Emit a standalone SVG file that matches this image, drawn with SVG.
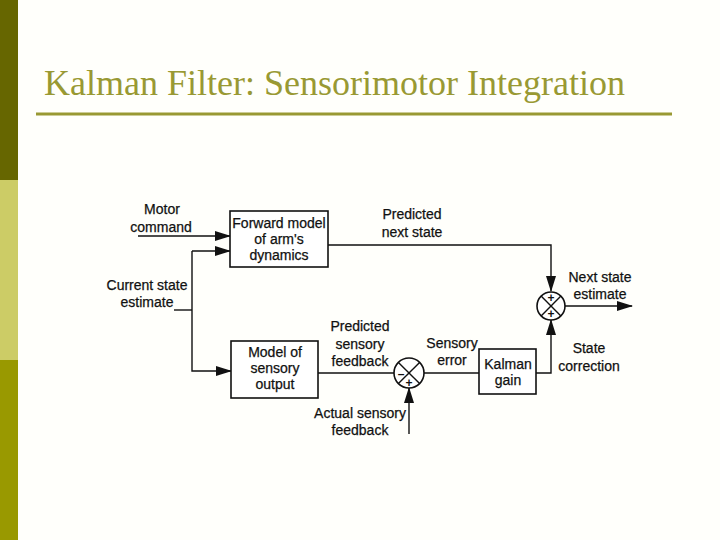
<svg xmlns="http://www.w3.org/2000/svg" width="720" height="540" viewBox="0 0 720 540">
<style>
.lbl{font-family:"Liberation Sans",Arial,sans-serif;font-size:14px;fill:#111;text-anchor:middle;stroke:#111;stroke-width:0.25}
.box{fill:#fff;stroke:#111;stroke-width:1.6}
.ln{fill:none;stroke:#111;stroke-width:1.4}
.sign{font-family:"Liberation Sans",sans-serif;font-size:12px;font-weight:bold;fill:#111;text-anchor:middle}
</style>
<defs>
<marker id="arr" markerUnits="userSpaceOnUse" markerWidth="16" markerHeight="10" refX="15" refY="5" orient="auto">
<path d="M0,0 L16,5 L0,10 Z" fill="#111"/>
</marker>
</defs>
<rect x="0" y="0" width="720" height="540" fill="#FFFFFB"/>
<rect x="0" y="0" width="18" height="180" fill="#666600"/>
<rect x="0" y="180" width="18" height="180" fill="#CCCC66"/>
<rect x="0" y="360" width="18" height="180" fill="#999900"/>
<text x="44" y="95" font-family="'Liberation Serif','Times New Roman',serif" font-size="36" fill="#999933">Kalman Filter: Sensorimotor Integration</text>
<rect x="36" y="112.5" width="636" height="3" fill="#999933"/>

<g id="connectors">
<line class="ln" x1="138" y1="236" x2="230" y2="236" marker-end="url(#arr)"/>
<polyline class="ln" points="174,310 192,310"/>
<polyline class="ln" points="192,251 192,371 231,371" marker-end="url(#arr)"/>
<line class="ln" x1="192" y1="251" x2="230" y2="251" marker-end="url(#arr)"/>
<polyline class="ln" points="328,245 551,245 551,291" marker-end="url(#arr)"/>
<line class="ln" x1="565" y1="306" x2="632" y2="306" marker-end="url(#arr)"/>
<line class="ln" x1="318" y1="373" x2="394" y2="373"/>
<line class="ln" x1="409" y1="434" x2="409" y2="388" marker-end="url(#arr)"/>
<line class="ln" x1="424" y1="373" x2="479" y2="373"/>
<polyline class="ln" points="536,373 551,373 551,320" marker-end="url(#arr)"/>
</g>

<g id="forward-model">
<rect class="box" x="230" y="211" width="98" height="56"/>
<text class="lbl" x="279" y="228">Forward model</text>
<text class="lbl" x="279" y="244">of arm's</text>
<text class="lbl" x="279" y="260">dynamics</text>
</g>
<g id="sensory-model">
<rect class="box" x="231" y="341" width="87" height="57"/>
<text class="lbl" x="275" y="357">Model of</text>
<text class="lbl" x="275" y="373">sensory</text>
<text class="lbl" x="275" y="389">output</text>
</g>
<g id="kalman-gain">
<rect class="box" x="479" y="349" width="57" height="45"/>
<text class="lbl" x="508" y="369">Kalman</text>
<text class="lbl" x="508" y="385">gain</text>
</g>
<g id="comparator">
<circle class="box" cx="409" cy="373" r="15"/>
<line class="ln" x1="398.4" y1="362.4" x2="419.6" y2="383.6"/>
<line class="ln" x1="419.6" y1="362.4" x2="398.4" y2="383.6"/>
<text class="sign" x="401" y="378">–</text>
<text class="sign" x="409" y="387">+</text>
</g>
<g id="sum">
<circle class="box" cx="551" cy="306" r="14"/>
<line class="ln" x1="541.1" y1="296.1" x2="560.9" y2="315.9"/>
<line class="ln" x1="560.9" y1="296.1" x2="541.1" y2="315.9"/>
<text class="sign" x="551" y="302">+</text>
<text class="sign" x="551" y="318">+</text>
</g>

<g id="labels">
<text class="lbl" x="162" y="214">Motor</text>
<text class="lbl" x="161" y="232">command</text>
<text class="lbl" x="147" y="290">Current state</text>
<text class="lbl" x="147" y="307">estimate</text>
<text class="lbl" x="412" y="219">Predicted</text>
<text class="lbl" x="412" y="237">next state</text>
<text class="lbl" x="600" y="282">Next state</text>
<text class="lbl" x="600" y="299">estimate</text>
<text class="lbl" x="360" y="331">Predicted</text>
<text class="lbl" x="360" y="349">sensory</text>
<text class="lbl" x="360" y="366">feedback</text>
<text class="lbl" x="452" y="348">Sensory</text>
<text class="lbl" x="452" y="365">error</text>
<text class="lbl" x="589" y="353">State</text>
<text class="lbl" x="589" y="371">correction</text>
<text class="lbl" x="360" y="418">Actual sensory</text>
<text class="lbl" x="360" y="435">feedback</text>
</g>
</svg>
